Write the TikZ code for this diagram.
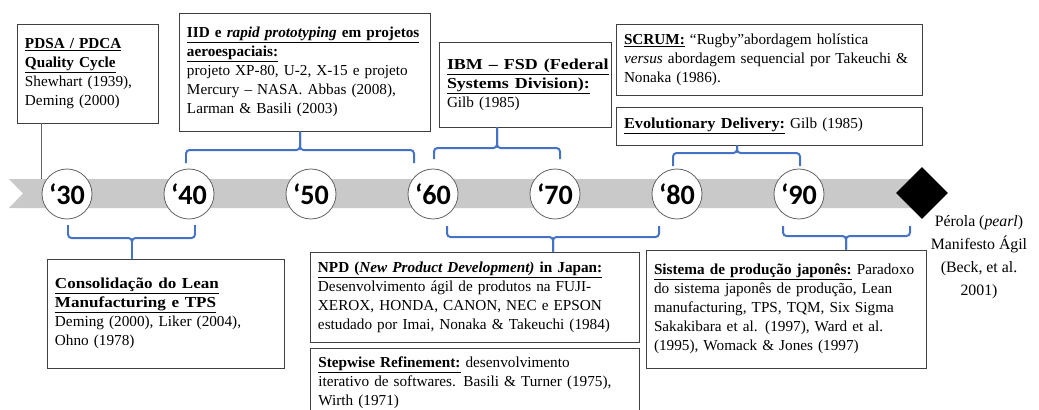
\documentclass[tikz,border=0pt]{standalone}
\usepackage{fontspec}
\setmainfont{Liberation Serif}
\newfontfamily\decfont{Carlito}
\usepackage{tikz}
\usetikzlibrary{positioning,shapes.geometric}

\definecolor{bandgray}{RGB}{201,201,201}
\definecolor{braceblue}{RGB}{68,114,196}
\definecolor{boxgray}{RGB}{64,64,64}
\definecolor{circgray}{RGB}{100,100,100}

\begin{document}
\begin{tikzpicture}[x=0.03cm,y=-0.03cm,
    textbox/.style={draw=boxgray, line width=0.7pt, align=left, inner xsep=0.24cm, inner ysep=0pt, font=\fontsize{13}{16.2}\selectfont},
    decade/.style={circle, draw=circgray, line width=0.7pt, fill=white, minimum size=1.5cm, inner sep=0pt, font=\decfont\bfseries\fontsize{24}{24}\selectfont},
    tlbrace/.style={draw=braceblue, line width=1.7pt, rounded corners=3pt}]
        \useasboundingbox (0,0) rectangle (1039,409);
        \clip (0,0) rectangle (1039,409);

        % linha do tempo
        \fill[bandgray] (9,179) -- (922,179) -- (922,208) -- (9,208) -- (23,193.5) -- cycle;
        \foreach \d [count=\i from 0] in {30,40,...,90}
          \node[decade] (c\d) at ({67+122*\i},194) {‘\d};
        \node[diamond, fill=black, minimum width=1.56cm, minimum height=1.56cm, inner sep=0pt] (fim) at (922,193) {};
        \node[align=center, font=\fontsize{13.5}{19.5}\selectfont] (perola) at (979,257) {Pérola (\textit{pearl})\\ Manifesto Ágil\\ (Beck, et al.\\ 2001)};

        % caixas de cima
        \node[textbox, text width=3.75cm, minimum height=2.97cm] (pdsa) at (87.5,73.5)
          {\underline{\textbf{PDSA / PDCA}}\\ \underline{\textbf{Quality Cycle}}\\ Shewhart (1939),\\ Deming (2000)};
        \node[textbox, text width=7.05cm, minimum height=3.54cm] (iid) at (304.5,72)
          {\underline{\textbf{IID e \textit{rapid prototyping} em projetos}}\\ \underline{\textbf{aeroespaciais:}}\\ projeto XP-80, U-2, X-15 e projeto\\ Mercury – NASA. Abbas (2008),\\ Larman \& Basili (2003)};
        \node[textbox, text width=4.68cm, minimum height=2.55cm] (ibm) at (525,84.5)
          {\underline{\scalebox{1.18}[1]{\textbf{IBM – FSD (Federal}}}\\ \underline{\scalebox{1.18}[1]{\textbf{Systems Division):}}}\\ Gilb (1985)};
        \node[textbox, text width=8.7cm, minimum height=2.13cm] (scrum) at (769,59.5)
          {\underline{\textbf{SCRUM:}} “Rugby”abordagem holística\\ \textit{versus} abordagem sequencial por Takeuchi \&\\ Nonaka (1986).};
        \node[textbox, text width=8.7cm, minimum height=1.14cm] (evol) at (769,126)
          {\underline{\scalebox{1.07}[1]{\textbf{Evolutionary Delivery:}}} Gilb (1985)};

        % caixas de baixo
        \node[textbox, text width=6.63cm, minimum height=3.27cm] (consol) at (165.5,313.5)
          {\underline{\scalebox{1.12}[1]{\textbf{Consolidação do Lean}}}\\ \underline{\scalebox{1.12}[1]{\textbf{Manufacturing e TPS}}}\\ Deming (2000), Liker (2004),\\ Ohno (1978)};
        \node[textbox, text width=9.39cm, minimum height=2.7cm] (npd) at (474.5,297)
          {\underline{\textbf{NPD (\textit{New Product Development)} in Japan:}}\\ Desenvolvimento ágil de produtos na FUJI-\\ XEROX, HONDA, CANON, NEC e EPSON\\ estudado por Imai, Nonaka \& Takeuchi (1984)};
        \node[textbox, text width=9.39cm, inner ysep=0.24cm, anchor=north west] (stepwise) at (310,348)
          {\underline{\textbf{Stepwise Refinement:}} desenvolvimento\\ iterativo de softwares. Basili \& Turner (1975),\\ Wirth (1971)};
        \node[textbox, text width=7.92cm, minimum height=3.54cm] (sistema) at (786,309)
          {\underline{\textbf{Sistema de produção japonês:}} Paradoxo\\ do sistema japonês de produção, Lean\\ manufacturing, TPS, TQM, Six Sigma\\ Sakakibara et al. (1997), Ward et al.\\ (1995), Womack \& Jones (1997)};

        \draw[circgray, line width=0.7pt] (pdsa.south -| c30.west) -- (c30.west |- 0,179);

        % chaves
        \draw[tlbrace] (186,163) -- (186,150) -- (300,150) -- (iid.south -| 300,0);
        \draw[tlbrace] (414,163) -- (414,150) -- (300,150) -- (iid.south -| 300,0);
        \draw[tlbrace] (434,159) -- (434,148) -- (497,148) -- (ibm.south -| 497,0);
        \draw[tlbrace] (560,159) -- (560,148) -- (497,148) -- (ibm.south -| 497,0);
        \draw[tlbrace] (673,166) -- (673,153) -- (737,153) -- (evol.south -| 737,0);
        \draw[tlbrace] (800,166) -- (800,153) -- (737,153) -- (evol.south -| 737,0);
        \draw[tlbrace] (68,225) -- (68,238) -- (132,238) -- (consol.north -| 132,0);
        \draw[tlbrace] (195,225) -- (195,238) -- (132,238) -- (consol.north -| 132,0);
        \draw[tlbrace] (447,226) -- (447,237) -- (553,237) -- (npd.north -| 553,0);
        \draw[tlbrace] (659,226) -- (659,237) -- (553,237) -- (npd.north -| 553,0);
        \draw[tlbrace] (783,226) -- (783,236) -- (846,236) -- (sistema.north -| 846,0);
        \draw[tlbrace] (910,226) -- (910,236) -- (846,236) -- (sistema.north -| 846,0);
\end{tikzpicture}
\end{document}
